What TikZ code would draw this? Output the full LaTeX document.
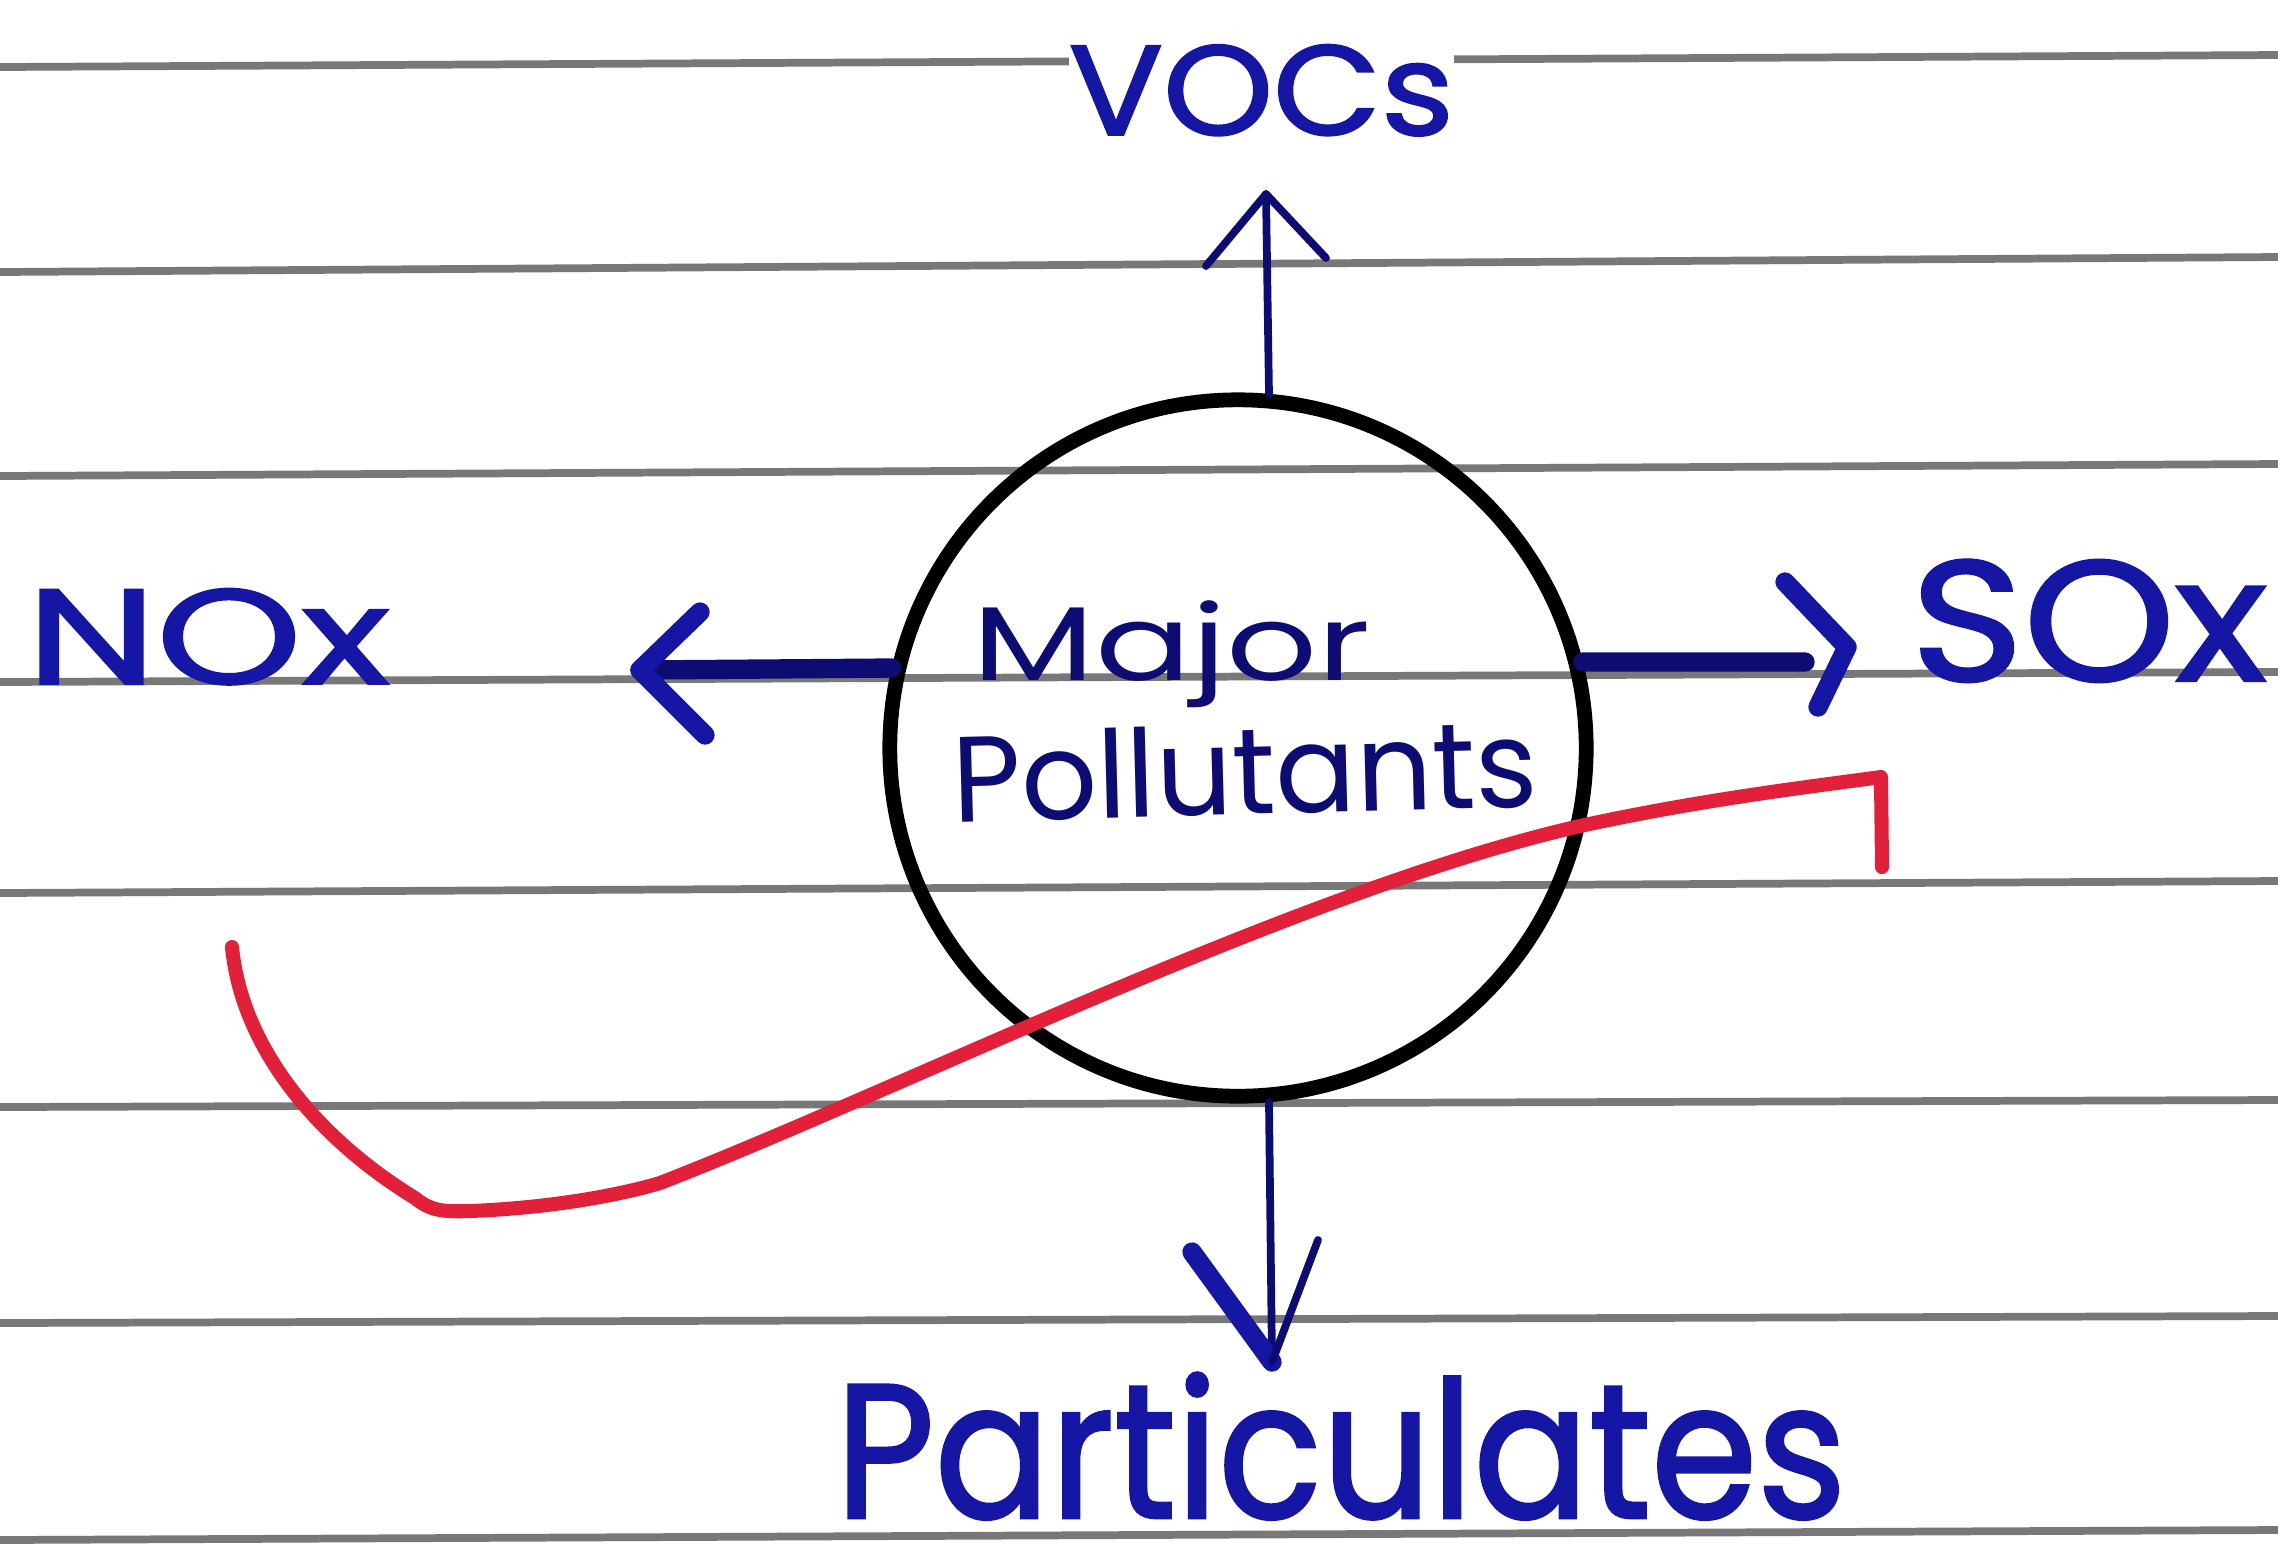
\documentclass[tikz,border=0pt]{standalone}
\usepackage{fontspec}
\setmainfont{Poppins}
\newfontfamily\penfont[FakeBold=1.6]{Poppins}
\usepackage{graphicx}
\definecolor{ink}{RGB}{22,22,165}
\definecolor{inkdark}{RGB}{12,12,115}
\definecolor{rulegrey}{RGB}{120,120,120}
\definecolor{redpen}{RGB}{226,32,58}
\tikzset{
  ruleline/.style={draw=rulegrey, line width=2.2pt},
  penlabel/.style={inner sep=0pt, text=ink, font=\penfont},
  innerlabel/.style={inner sep=0pt, text=inkdark},
  thinarrow/.style={draw=inkdark, line width=2.2pt, line cap=round, line join=round},
  thickarrow/.style={draw=inkdark, line width=5.5pt, line cap=round, line join=round},
  redstroke/.style={draw=redpen, line width=4pt, line cap=round, line join=round},
}
\begin{document}
\begin{tikzpicture}[x=0.01cm, y=-0.01cm]
\fill[white] (0,0) rectangle (2278,1547);
\useasboundingbox (0,0) rectangle (2278,1547);
% ruled paper lines
\draw[ruleline] (0,67) -- (2278,55);
\draw[ruleline] (0,272) -- (2278,257);
\draw[ruleline] (0,476) -- (2278,464);
\draw[ruleline] (0,682) -- (2278,672);
\draw[ruleline] (0,893) -- (2278,881);
\draw[ruleline] (0,1107) -- (2278,1100);
\draw[ruleline] (0,1323) -- (2278,1316);
\draw[ruleline] (0,1540) -- (2278,1530);
% central circle
\node[circle, draw=black, line width=4.2pt, minimum size=6.96cm, inner sep=0pt] (c) at (1238,748) {};
\node[innerlabel, anchor=north west] (maj) at (972,600) {\resizebox*{3.98cm}{1.07cm}{Major}};
\node[innerlabel, rotate=1.5] (pol) at (1245,770) {\resizebox{5.85cm}{0.9cm}{Pollutants}};
% outer labels
\node[penlabel, anchor=north west, fill=white] (voc) at (1068,44) {\resizebox{3.85cm}{0.9cm}{VOCs}};
\node[penlabel, anchor=north west] (nox) at (26,588) {\resizebox{3.63cm}{0.95cm}{NOx}};
\node[penlabel, anchor=north west] (sox) at (1910,559) {\resizebox{3.56cm}{1.21cm}{SOx}};
\node[penlabel, anchor=north west] (par) at (835,1372) {\resizebox{10.1cm}{1.45cm}{Particulates}};
% arrow tips
\coordinate (vt) at (1266,194);
\coordinate (nt) at (640,670);
\coordinate (st) at (1847,647);
\coordinate (pt) at (1272,1362);
% up arrow
\draw[thinarrow] (c.85) -- (vt);
\draw[thinarrow] ([shift={(-60,72)}]vt) -- (vt) -- ([shift={(60,64)}]vt);
% left arrow
\draw[thickarrow] (c.167) -- (nt);
\draw[thickarrow, draw=ink] ([shift={(60,-58)}]nt) -- (nt) -- ([shift={(65,65)}]nt);
% right arrow
\draw[thickarrow] (c.14) -- ([shift={(-42,15)}]st);
\draw[thickarrow, draw=ink] ([shift={(-62,-65)}]st) -- (st) -- ([shift={(-29,60)}]st);
% down arrow
\draw[thinarrow] (c.-85) -- (pt);
\draw[thickarrow, draw=ink] ([shift={(-80,-110)}]pt) -- (pt);
\draw[thinarrow] ([shift={(46,-122)}]pt) -- (pt);
% red stroke
\coordinate (r0) at (232,947);
\coordinate (r1) at (415,1198);
\coordinate (r2) at (470,1211);
\coordinate (r3) at (660,1183);
\coordinate (r4) at (1580,826);
\coordinate (r5) at (1881,777);
\coordinate (r6) at (1882,867);
\draw[redstroke] (r0) .. controls (242,1050) and (320,1140) .. (r1)
  .. controls (430,1210) and (440,1212) .. (r2)
  .. controls (550,1208) and (620,1195) .. (r3)
  .. controls (900,1090) and (1300,890) .. (r4)
  .. controls (1700,800) and (1800,788) .. (r5) -- (r6);
\end{tikzpicture}
\end{document}
